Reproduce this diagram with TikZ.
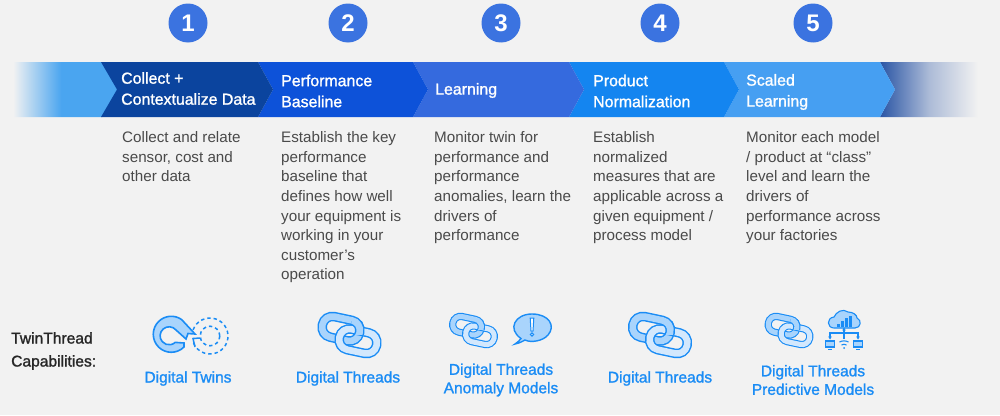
\documentclass[tikz,border=0pt]{standalone}
\usepackage{fontspec}
\setmainfont{Liberation Sans}
\newfontfamily\semifont{Liberation Sans}[FakeBold=1.3]
\usetikzlibrary{arrows.meta}
\definecolor{pagebg}{HTML}{F2F2F2}
\definecolor{numblue}{HTML}{3B73E0}
\definecolor{segA}{HTML}{4AA5F0}
\definecolor{segB}{HTML}{0B449E}
\definecolor{segC}{HTML}{0D52D9}
\definecolor{segD}{HTML}{356ADE}
\definecolor{segE}{HTML}{1485F0}
\definecolor{segF}{HTML}{469FF2}
\definecolor{segG}{HTML}{2A55A5}
\definecolor{bodytext}{HTML}{4A4A4A}
\definecolor{iconline}{HTML}{1A8CF5}
\definecolor{iconfill}{HTML}{A9D4FC}
\definecolor{iconpale}{HTML}{D3E8FD}
\pgfdeclarehorizontalshading{leadfade}{100bp}{color(0bp)=(pagebg); color(25bp)=(pagebg); color(48bp)=(segA); color(100bp)=(segA)}
\def\chainscale{1}
\tikzset{
  numdot/.style={circle,fill=numblue,text=white,minimum size=39pt,inner sep=0pt,font=\fontsize{24}{24}\selectfont\bfseries},
  seghead/.style={anchor=west,align=left,text=white,inner sep=0pt,font=\fontsize{15.9}{21}\semifont},
  bodynote/.style={anchor=north west,align=left,text=bodytext,inner sep=0pt,font=\fontsize{15.2}{19.6}\selectfont},
  caplabel/.style={align=center,text=iconline,inner sep=0pt,font=\fontsize{15.5}{18.5}\semifont},
  sidelabel/.style={anchor=west,align=left,text=black!85,inner sep=0pt,font=\fontsize{15.6}{23}\semifont},
  ringout/.style={draw=iconline,line width=\chainscale*9.5pt,rounded corners=#1*\chainscale},
  ringin/.style={draw=iconfill,line width=\chainscale*6.6pt,rounded corners=#1*\chainscale},
  ringpale/.style={draw=iconpale,line width=\chainscale*6.6pt,rounded corners=#1*\chainscale},
  tinyicon/.style={draw=iconline,line width=1.1pt},
  dashicon/.style={draw=iconline,line width=1.5pt,dash pattern=on 3.4pt off 3pt}
}
\newcommand{\chainlink}[6]{% x y w h angle ring-style
  \begin{scope}[shift={(#1,#2)},rotate=#5]
    \draw[ringout=#4*0.48] (-#3/2,#4/2) rectangle (#3/2,-#4/2);
    \draw[#6=#4*0.48] (-#3/2,#4/2) rectangle (#3/2,-#4/2);
  \end{scope}}
\newcommand{\chainicon}[3]{% x y scale
  \begin{scope}[shift={(#1,#2)},scale=#3]
    \def\chainscale{#3}
    \chainlink{-8.5}{-6.25}{38}{21}{-12}{ringin}
    \chainlink{8.5}{6.25}{38}{21}{-12}{ringpale}
    \begin{scope}
      \clip (2,-14) rectangle (19,-1);
      \chainlink{-8.5}{-6.25}{38}{21}{-12}{ringin}
    \end{scope}
  \end{scope}}
\begin{document}
\begin{tikzpicture}[x=1pt,y=-1pt]
\fill[pagebg] (0,0) rectangle (1000,415);
\useasboundingbox (0,0) rectangle (1000,415);
% band
\shade[shading=leadfade] (13,62) -- (102,62) -- (118,89.5) -- (102,117) -- (13,117) -- cycle;
\shade[left color=segG,right color=pagebg,middle color=segG!35!pagebg] (880,62) -- (978,62) -- (978,117) -- (880,117) -- (895,89.5) -- cycle;
\fill[segF] (724,62) -- (880,62) -- (895,89.5) -- (880,117) -- (724,117) -- (739,89.5) -- cycle;
\fill[segE] (569,62) -- (724,62) -- (739,89.5) -- (724,117) -- (569,117) -- (584,89.5) -- cycle;
\fill[segD] (413,62) -- (569,62) -- (584,89.5) -- (569,117) -- (413,117) -- (428,89.5) -- cycle;
\fill[segC] (258,62) -- (413,62) -- (428,89.5) -- (413,117) -- (258,117) -- (273,89.5) -- cycle;
\fill[segB] (101,62) -- (258,62) -- (273,89.5) -- (258,117) -- (101,117) -- (117,89.5) -- cycle;
% numbers
\node[numdot] (n1) at (188,23) {1};
\node[numdot] (n2) at (348,23) {2};
\node[numdot] (n3) at (501,23) {3};
\node[numdot] (n4) at (660,23) {4};
\node[numdot] (n5) at (813,23) {5};
% heads
\node[seghead] (h1) at (121,88.5) {Collect +\\Contextualize Data};
\node[seghead] (h2) at (281,91) {Performance\\Baseline};
\node[seghead] (h3) at (435,90.5) {Learning};
\node[seghead] (h4) at (593,91) {Product\\Normalization};
\node[seghead] (h5) at (746,92) {Scaled\\Learning};
% body
\node[bodynote] (b1) at (122,131.5) {Collect and relate\\sensor, cost and\\other data};
\node[bodynote] (b2) at (281,131.5) {Establish the key\\performance\\baseline that\\defines how well\\your equipment is\\working in your\\customer’s\\operation};
\node[bodynote] (b3) at (434,131.5) {Monitor twin for\\performance and\\performance\\anomalies, learn the\\drivers of\\performance};
\node[bodynote] (b4) at (593,131.5) {Establish\\normalized\\measures that are\\applicable across a\\given equipment /\\process model};
\node[bodynote] (b5) at (746,131.5) {Monitor each model\\/ product at “class”\\level and learn the\\drivers of\\performance across\\your factories};
% side label
\node[sidelabel] (side) at (11,351) {TwinThread\\Capabilities:};
% captions
\node[caplabel] (c1) at (188,378.5) {Digital Twins};
\node[caplabel] (c2) at (348,378.5) {Digital Threads};
\node[caplabel] (c3) at (501,380) {Digital Threads\\Anomaly Models};
\node[caplabel] (c4) at (660,378.5) {Digital Threads};
\node[caplabel] (c5) at (813,380) {Digital Threads\\Predictive Models};
% twins icon
\draw[dashicon] (210,336) ++(200:18) arc[start angle=200,end angle=520,radius=18];
\draw[dashicon] (210,336) circle[radius=9.8];
\draw[iconline,line width=1.5pt] (200,338) -- (193,338.5) -- (195,347);
\fill[iconfill,draw=iconline,line width=1.6pt]
  (195,334) -- (188,333.5) -- (186,339) -- (176,330)
  arc[start angle=-40,end angle=-313,radius=9] -- (184,343) -- (184,347)
  arc[start angle=45,end angle=305,radius=18] -- cycle;
% chains
\chainicon{349.5}{335}{1}
\chainicon{473.5}{330.5}{0.76}
\chainicon{660}{335}{1}
\chainicon{789}{330.5}{0.76}
% bubble
\fill[iconfill,draw=iconline,line width=1.4pt]
  (521,338.5) .. controls (507,329) and (515,314) .. (532,314)
  .. controls (549,314) and (556,326) .. (548,335)
  .. controls (543,341) and (531,343) .. (525,340)
  .. controls (522,342) and (519,343) .. (515,344)
  .. controls (518,342) and (520,340) .. (521,338.5) -- cycle;
\fill[white,draw=iconline,line width=1pt] (530.2,318) -- (533.8,318) -- (533,331) -- (531,331) -- cycle;
\fill[white,draw=iconline,line width=1pt] (532,334.5) circle[radius=1.6];
% cloud
\fill[iconfill,draw=iconline,line width=1.1pt]
  (834,328) .. controls (827,328) and (826,318) .. (834,317)
  .. controls (836,312) and (843,308) .. (848,312)
  .. controls (853,312) and (857,315) .. (857,318)
  .. controls (862,320) and (861,328) .. (855,328) -- cycle;
\fill[iconline] (837,324) rectangle (839.5,327);
\fill[iconline] (841,321) rectangle (843.5,327);
\fill[iconline] (845,318) rectangle (847.5,327);
\fill[iconline] (849,315.5) rectangle (851.5,327);
\draw[tinyicon,-{Stealth[length=3pt,width=3.5pt]}] (844,339) -- (844,327.5);
\draw[tinyicon,-{Stealth[length=3pt,width=3.5pt]}] (844,333) -- (830,333) -- (830,339.5);
\draw[tinyicon,-{Stealth[length=3pt,width=3.5pt]}] (844,333) -- (858,333) -- (858,339.5);
\fill[iconfill,draw=iconline,line width=1.1pt] (825.5,341) rectangle (834.5,347);
\fill[iconfill,draw=iconline,line width=1.1pt] (853.5,341) rectangle (862.5,347);
\draw[tinyicon] (828,349.5) -- (832,349.5) (856,349.5) -- (860,349.5);
\draw[tinyicon] (839.5,342) .. controls (842,340.5) and (846,340.5) .. (848.5,342);
\draw[tinyicon] (841.5,345) .. controls (843,344) and (845,344) .. (846.5,345);
\fill[iconline] (844,348) circle[radius=1];
\end{tikzpicture}
\end{document}
